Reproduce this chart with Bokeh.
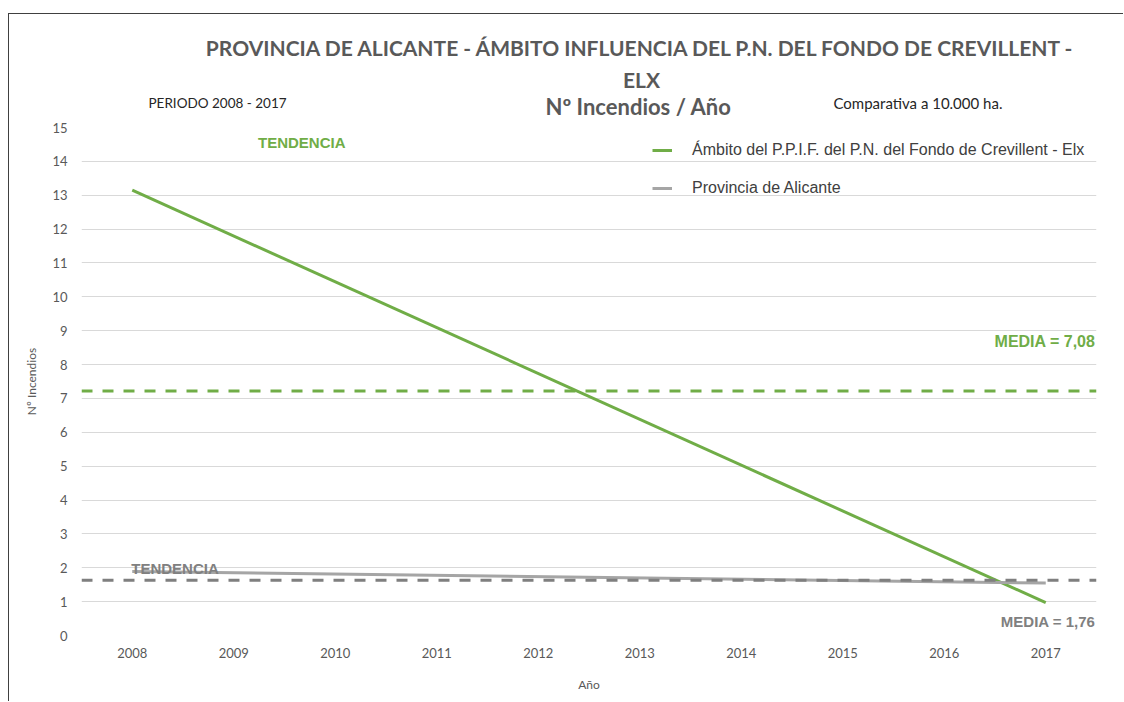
from bokeh.plotting import figure
from bokeh.models import Span, Label, Legend, LegendItem, FixedTicker, FactorRange, Range1d
from bokeh.embed import file_html
from bokeh.resources import INLINE

# ---- data ----
years = [str(y) for y in range(2008, 2018)]
trend_years = ["2008", "2017"]
elx_trend = [13.15, 0.97]
alicante_trend = [1.89, 1.55]
elx_mean_line = 7.22
alicante_mean_line = 1.63
y_ticks = list(range(0, 16))

title_1 = "PROVINCIA DE ALICANTE - ÁMBITO INFLUENCIA DEL P.N. DEL FONDO DE CREVILLENT -"
title_2 = "ELX"
title_3 = "Nº Incendios / Año"
period_text = "PERIODO 2008 - 2017"
comparativa_text = "Comparativa a 10.000 ha."
elx_label = "Ámbito del P.P.I.F. del P.N. del Fondo de Crevillent - Elx"
alicante_label = "Provincia de Alicante"
elx_mean_text = "MEDIA = 7,08"
alicante_mean_text = "MEDIA = 1,76"
trend_text = "TENDENCIA"

GREEN = "#70ad47"
GRAY_TREND = "#a5a5a5"
GRAY_DASH = "#7f7f7f"
GRAY_TEXT = "#808080"
TXT = "#595959"

p = figure(width=1115, height=688, x_range=FactorRange(*years, range_padding=0),
           y_range=Range1d(0, 15), output_backend="svg", toolbar_location=None,
           min_border_left=72, min_border_right=28, min_border_top=113, min_border_bottom=67)
p.styles = {"border-left": "1px solid #404040", "border-top": "1px solid #404040",
            "margin-top": "13px", "margin-left": "8px"}
p.outline_line_color = None
p.background_fill_color = "white"

# axes
p.yaxis.ticker = FixedTicker(ticks=y_ticks)
for ax in (p.xaxis[0], p.yaxis[0]):
    ax.axis_line_color = None
    ax.major_tick_line_color = None
    ax.minor_tick_line_color = None
    ax.major_label_text_font = "Lato"
    ax.major_label_text_font_size = "13px"
    ax.major_label_text_color = TXT
    ax.axis_label_text_font = "Lato"
    ax.axis_label_text_font_size = "12px"
    ax.axis_label_text_font_style = "normal"
    ax.axis_label_text_color = TXT
p.yaxis.major_label_standoff = 8
p.xaxis.major_label_standoff = 6
p.yaxis.axis_label = "Nº Incendios"
p.xaxis.axis_label = "Año"
p.yaxis.axis_label_standoff = 10
p.xaxis.axis_label_standoff = 16
p.xgrid.grid_line_color = None
p.ygrid.grid_line_color = "#d9d9d9"
p.ygrid.grid_line_width = 1

# mean lines
p.add_layout(Span(location=elx_mean_line, dimension="width", line_color=GREEN,
                  line_width=3, line_dash="11 10"))
p.add_layout(Span(location=alicante_mean_line, dimension="width", line_color=GRAY_DASH,
                  line_width=3, line_dash="11 10"))

# trend lines
r_elx = p.line(trend_years, elx_trend, line_color=GREEN, line_width=3)
r_ali = p.line(trend_years, alicante_trend, line_color=GRAY_TREND, line_width=3)

legend = Legend(items=[LegendItem(label=elx_label, renderers=[r_elx]),
                       LegendItem(label=alicante_label, renderers=[r_ali])],
                location=(571, 437), padding=5, spacing=18, label_height=20,
                glyph_height=20, glyph_width=20, label_standoff=20,
                border_line_color=None, background_fill_alpha=0,
                label_text_font="Liberation Sans", label_text_font_size="16px",
                label_text_color="#404040")
p.add_layout(legend)

# annotations inside the plot frame
def lab(x, y, text, font, size, color, style="normal", align="left"):
    p.add_layout(Label(x=x, y=y, text=text, text_font=font, text_font_size=size,
                       text_color=color, text_font_style=style, text_align=align,
                       text_baseline="middle"))

lab(2.17, 14.56, trend_text, "Liberation Sans", "15px", GREEN, "bold", "center")
lab(9.99, 8.68, elx_mean_text, "Liberation Sans", "16px", GREEN, "bold", "right")
lab(0.49, 1.98, trend_text, "Liberation Sans", "15px", GRAY_TEXT, "bold", "left")
lab(9.99, 0.41, alicante_mean_text, "Liberation Sans", "15px", GRAY_TEXT, "bold", "right")

# title block in the panel above the frame; labels there are stacked upward
# in the order they are added, so each y is relative to its own slot
def top_lab(x, y, text, size, color, style="normal", align="left"):
    p.add_layout(Label(x=x, y=y, text=text, text_font="Lato", text_font_size=size,
                       text_color=color, text_font_style=style, text_align=align,
                       text_baseline="middle", x_units="screen", y_units="screen"), "above")

top_lab(557, 21, title_3, "22px", TXT, "bold", "center")
top_lab(67, -2.3, period_text, "13.5px", "#262626")
top_lab(752, -18.7, comparativa_text, "15px", "#262626")
top_lab(560, -12.7, title_2, "21px", TXT, "bold", "center")
top_lab(560, -6.1, title_1, "21px", TXT, "bold", "center")

open("out.html", "w").write(file_html(p, INLINE))
